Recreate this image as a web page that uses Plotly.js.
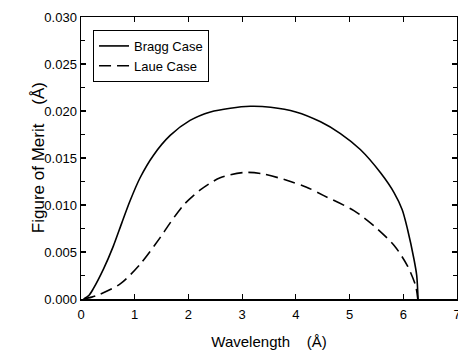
<!DOCTYPE html>
<html>
<head>
<meta charset="utf-8">
<script src="https://cdn.plot.ly/plotly-3.0.1.min.js"></script>
<style>html,body{margin:0;padding:0;background:#fff;}#chart{width:458px;height:350px;}</style>
</head>
<body>
<div id="chart"></div>
<script>
// Wavelength (Å) and Figure of Merit (Å)
const braggX = [0.05, 0.15, 0.23, 0.42, 0.6, 0.76, 0.91, 1.1, 1.35, 1.66, 2.03, 2.41, 2.78, 3.15, 3.53, 4.0, 4.46, 4.83, 5.2, 5.58, 5.83, 5.98, 6.08, 6.2, 6.25, 6.275];
const braggY = [0, 0.0004, 0.0011, 0.0032, 0.0056, 0.0081, 0.0104, 0.0129, 0.0153, 0.0174, 0.019, 0.0199, 0.0203, 0.0205, 0.0204, 0.0199, 0.01885, 0.0176, 0.0159, 0.0134, 0.0113, 0.0095, 0.0074, 0.0042, 0.0025, 0];
const laueX = [0.05, 0.2, 0.35, 0.73, 1.1, 1.47, 1.66, 1.91, 2.22, 2.59, 3.03, 3.4, 3.9, 4.2, 4.52, 5.08, 5.45, 5.83, 6.08, 6.23, 6.27];
const laueY = [0, 0.0002, 0.0005, 0.0016, 0.0037, 0.0065, 0.0081, 0.01, 0.0116, 0.0129, 0.01346, 0.0133, 0.0125, 0.0119, 0.011, 0.0094, 0.0078, 0.0057, 0.0035, 0.0014, 0];
const seriesNames = ["Bragg Case", "Laue Case"];
const xTicks = [0, 1, 2, 3, 4, 5, 6, 7];
const yTicks = [0, 0.005, 0.01, 0.015, 0.02, 0.025, 0.03];
const yTickText = ["0.000", "0.005", "0.010", "0.015", "0.020", "0.025", "0.030"];
const yMinorTicks = [0.0025, 0.0075, 0.0125, 0.0175, 0.0225, 0.0275];
const xTitle = "Wavelength &nbsp;&nbsp; (Å)";
const yTitle = "Figure of Merit &nbsp;&nbsp; (Å)";

const fontFam = "Liberation Sans, Arial, sans-serif";
const traces = [
  {x: braggX, y: braggY, name: seriesNames[0], mode: "lines",
   line: {color: "#000", width: 1.6, shape: "spline", smoothing: 0.8}},
  {x: laueX, y: laueY, name: seriesNames[1], mode: "lines",
   line: {color: "#000", width: 1.6, shape: "spline", smoothing: 0.8, dash: "12px,6px"}}
];
const axisCommon = {
  showgrid: false, zeroline: false, showline: true, linecolor: "#000", linewidth: 1.5,
  mirror: "allticks", ticks: "inside", ticklen: 5, tickwidth: 1.2, tickcolor: "#000",
  tickfont: {family: fontFam, size: 13, color: "#000"}
};
const layout = {
  width: 458, height: 350,
  margin: {l: 81, r: 1, t: 17, b: 51},
  paper_bgcolor: "#fff", plot_bgcolor: "#fff",
  showlegend: true,
  legend: {x: 0.032, y: 0.954, xanchor: "left", yanchor: "top",
    bordercolor: "#000", borderwidth: 1, bgcolor: "#fff",
    font: {family: fontFam, size: 13, color: "#000"}},
  xaxis: Object.assign({}, axisCommon, {
    range: [0, 7], tickvals: xTicks, ticklabeloverflow: "allow", ticklabelstandoff: 3,
    title: {text: xTitle, font: {family: fontFam, size: 15, color: "#000"}, standoff: 16}
  }),
  yaxis: Object.assign({}, axisCommon, {
    range: [0, 0.03], tickvals: yTicks, ticktext: yTickText,
    minor: {ticks: "inside", tickvals: yMinorTicks, ticklen: 4, tickcolor: "#000", tickwidth: 1}
  }),
  annotations: [{
    text: yTitle, xref: "paper", yref: "paper", x: -0.114, y: 0.5,
    xanchor: "center", yanchor: "middle", textangle: -90, showarrow: false,
    font: {family: fontFam, size: 17, color: "#000"}
  }]
};
Plotly.newPlot("chart", traces, layout, {displayModeBar: false, staticPlot: true});
</script>
</body>
</html>
